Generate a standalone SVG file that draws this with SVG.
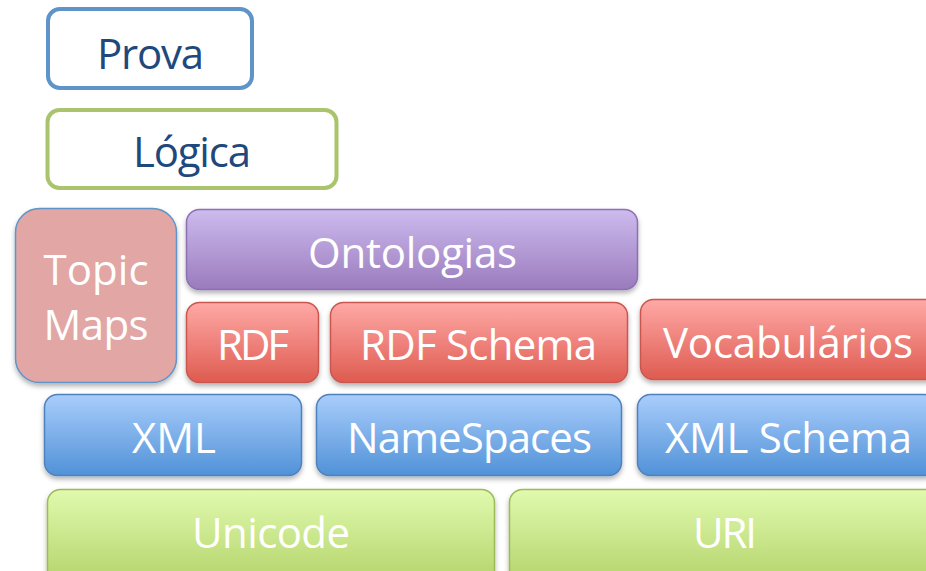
<svg xmlns="http://www.w3.org/2000/svg" width="926" height="571" viewBox="0 0 926 571">
<defs>
<linearGradient id="gPurple" x1="0" y1="0" x2="0" y2="1"><stop offset="0" stop-color="#cdbbee"/><stop offset="1" stop-color="#9a7bbd"/></linearGradient>
<linearGradient id="gRed" x1="0" y1="0" x2="0" y2="1"><stop offset="0" stop-color="#ffa9a6"/><stop offset="1" stop-color="#de5b50"/></linearGradient>
<linearGradient id="gBlue" x1="0" y1="0" x2="0" y2="1"><stop offset="0" stop-color="#a9cdfb"/><stop offset="1" stop-color="#5192d8"/></linearGradient>
<linearGradient id="gGreen" x1="0" y1="0" x2="0" y2="1"><stop offset="0" stop-color="#e1faaf"/><stop offset="1" stop-color="#b3d369"/></linearGradient>
<filter id="sh" x="-10%" y="-10%" width="120%" height="130%"><feDropShadow dx="0" dy="3" stdDeviation="2.5" flood-color="#000" flood-opacity="0.3"/></filter>
</defs>
<style>
text{font-family:"Open Sans","Noto Sans","DejaVu Sans",sans-serif;font-size:42px;text-anchor:middle;}
.w{fill:#ffffff;}
.d{fill:#1f497d;}
.purple{fill:url(#gPurple);stroke:#8d70b2;stroke-width:1.5;filter:url(#sh);}
.red{fill:url(#gRed);stroke:#c9574f;stroke-width:1.5;filter:url(#sh);}
.blue{fill:url(#gBlue);stroke:#4f81bd;stroke-width:1.5;filter:url(#sh);}
.green{fill:url(#gGreen);stroke:#9bbb59;stroke-width:1.5;filter:url(#sh);}
</style>
<rect width="926" height="571" fill="#ffffff"/>
<g id="connectors"></g>
<g id="prova"><rect x="48" y="9" width="204" height="79" rx="12" fill="#ffffff" stroke="#5f94c8" stroke-width="4"/><text class="d" x="150.5" y="69" textLength="107">Prova</text></g>
<g id="logica"><rect x="47.5" y="110" width="289" height="78" rx="12" fill="#ffffff" stroke="#a9c46c" stroke-width="4"/><text class="d" x="192" y="167" textLength="118">Lógica</text></g>
<g id="topicmaps"><rect x="15.5" y="208.5" width="161" height="174" rx="24" fill="#e2a6a5" stroke="#5f94c8" stroke-width="1.5" filter="url(#sh)"/><text class="w" x="96" y="285" textLength="105">Topic</text><text class="w" x="96" y="340" textLength="105">Maps</text></g>
<g id="ontologias"><rect class="purple" x="186.5" y="209.5" width="451" height="80" rx="13"/><text class="w" x="412.5" y="268" textLength="209">Ontologias</text></g>
<g id="rdf"><rect class="red" x="186.5" y="302.5" width="132" height="80" rx="13"/><text class="w" x="253" y="360" textLength="72">RDF</text></g>
<g id="rdfschema"><rect class="red" x="330.5" y="302.5" width="297" height="80" rx="13"/><text class="w" x="478.5" y="360" textLength="237">RDF Schema</text></g>
<g id="vocabularios"><rect class="red" x="640.5" y="299.5" width="300" height="80" rx="13"/><text class="w" x="788" y="358" textLength="250">Vocabulários</text></g>
<g id="xml"><rect class="blue" x="44.5" y="394.5" width="257" height="81" rx="13"/><text class="w" x="174" y="453" textLength="84">XML</text></g>
<g id="namespaces"><rect class="blue" x="316.5" y="394.5" width="305" height="81" rx="13"/><text class="w" x="469.5" y="453" textLength="245">NameSpaces</text></g>
<g id="xmlschema"><rect class="blue" x="637.5" y="394.5" width="300" height="81" rx="13"/><text class="w" x="788.5" y="453" textLength="247">XML Schema</text></g>
<g id="unicode"><rect class="green" x="47.5" y="489.5" width="447" height="95" rx="13"/><text class="w" x="271" y="548" textLength="158">Unicode</text></g>
<g id="uri"><rect class="green" x="509.5" y="489.5" width="430" height="95" rx="13"/><text class="w" x="725" y="548" textLength="64">URI</text></g>
</svg>
